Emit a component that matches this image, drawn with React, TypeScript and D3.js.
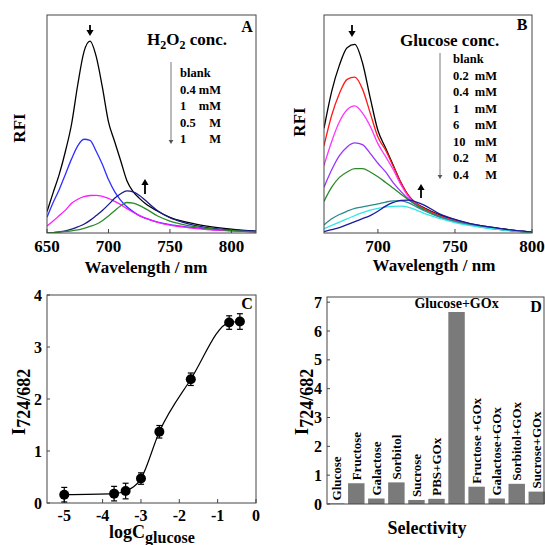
import React from "react";
import * as d3 from "d3";

const FONT = "'Liberation Serif', 'Times New Roman', serif";

// ---- panel A: H2O2 spectra ----
const waveA = [650, 655, 660, 665, 670, 675, 680, 685, 690, 695, 700, 705, 710, 715, 720, 725, 730, 740, 750, 760, 770, 780, 800, 820];
const blankA = [9.8, 18.5, 27, 37.5, 50, 68, 83, 88, 81, 67, 51, 42, 33, 24, 19, 16, 13.5, 10, 7.2, 5.4, 4.2, 3.2, 1.8, 0.9];
const h2o2_04mM = [7.2, 14, 20, 27, 34, 40, 43, 42.5, 37.5, 31.5, 24.5, 19, 15, 12, 9.8, 8, 6.8, 5, 3.8, 3, 2.4, 1.8, 1.1, 0.6];
const h2o2_1mM = [3.2, 5.5, 8, 10.5, 13.6, 15.5, 16.7, 17.2, 17.3, 16.8, 15.9, 14.5, 13, 11.2, 9.5, 8.1, 6.8, 4.9, 3.6, 2.8, 2.1, 1.6, 1.0, 0.5];
const h2o2_05M = [0, 0.2, 0.5, 1, 1.8, 2.8, 4, 5.8, 8, 10.3, 13, 15.9, 18, 19.3, 18.9, 17.3, 15, 10.2, 7, 5, 3.5, 2.5, 1.4, 0.8];
const h2o2_1M = [0, 0.2, 0.4, 0.7, 1, 1.4, 2.1, 3, 4, 5.6, 7.8, 10.2, 12.5, 14, 13.7, 12.7, 11.2, 7.8, 5.5, 4, 2.9, 2.1, 1.1, 0.5];
const seriesA = [blankA, h2o2_04mM, h2o2_1mM, h2o2_05M, h2o2_1M];
const colorsA = ["#000000", "#2f2fff", "#ff1aff", "#1a1a8c", "#2a8a2a"];
const legendA = [["blank", ""], ["0.4", "mM"], ["1", "mM"], ["0.5", "M"], ["1", "M"]];
const ticksA = [650, 700, 750, 800];

// ---- panel B: glucose spectra ----
const waveB = [665, 670, 675, 680, 685, 690, 695, 700, 705, 710, 715, 720, 725, 730, 740, 750, 760, 770, 780, 790, 800];
const blankB = [48, 65, 77, 85, 86.5, 78, 62, 47, 39, 31, 23, 17, 13.5, 11.5, 8.3, 6, 4.2, 3, 2, 1.1, 0.5];
const glu_02mM = [40, 54, 64, 70.5, 71.5, 66, 55, 44, 38, 30.5, 23, 17, 13.5, 11.3, 8, 5.8, 4, 2.8, 1.8, 1.0, 0.4];
const glu_04mM = [31, 42, 51, 56.5, 58.3, 55, 49, 41, 35, 29, 22, 16.5, 13, 10.8, 7.5, 5.3, 3.8, 2.6, 1.7, 0.9, 0.4];
const glu_1mM = [21, 29, 35.5, 39.5, 41.3, 40.5, 36.5, 32, 28, 23, 19, 15.5, 12.8, 10.8, 7.5, 5.3, 3.8, 2.6, 1.7, 0.9, 0.4];
const glu_6mM = [14.5, 21, 25.5, 28, 29.5, 29.5, 28, 25.8, 23.2, 20.5, 17.8, 15.2, 12.8, 10.8, 7.5, 5.2, 3.7, 2.5, 1.6, 0.9, 0.3];
const glu_10mM = [3.7, 6.5, 8.5, 10, 11.3, 12, 12.7, 13.4, 14.2, 14.7, 14.7, 13.8, 12, 10.2, 7.3, 5.2, 3.7, 2.5, 1.6, 0.9, 0.3];
const glu_02M = [2, 3.5, 5, 6.5, 8, 9.3, 10.5, 11.3, 11.9, 12.2, 12.3, 11.8, 10.5, 9, 6.7, 4.8, 3.4, 2.3, 1.5, 0.8, 0.3];
const glu_04M = [0.6, 1.5, 2.5, 3.8, 5.2, 6.6, 8, 10, 12.3, 14, 15, 15.1, 14.2, 12.8, 8.8, 6.2, 4.3, 3, 2, 1.1, 0.5];
const seriesB = [blankB, glu_02mM, glu_04mM, glu_1mM, glu_6mM, glu_10mM, glu_02M, glu_04M];
const colorsB = ["#000000", "#ff1a1a", "#ff33ff", "#9933ff", "#2a8a2a", "#2a8a8a", "#33e6e6", "#1a1aa0"];
const legendB = [["blank", ""], ["0.2", "mM"], ["0.4", "mM"], ["1", "mM"], ["6", "mM"], ["10", "mM"], ["0.2", "M"], ["0.4", "M"]];
const ticksB = [700, 750, 800];

// ---- panel C: calibration ----
const logC = [-5, -3.7, -3.4, -3, -2.52, -1.7, -0.7, -0.42];
const ratioC = [0.16, 0.18, 0.23, 0.47, 1.37, 2.38, 3.47, 3.49];
const errC = [0.14, 0.14, 0.15, 0.11, 0.12, 0.12, 0.13, 0.15];
const xTicksC = [-5, -4, -3, -2, -1, 0];
const yTicksC = [0, 1, 2, 3, 4];

// ---- panel D: selectivity ----
const selNames = ["Glucose", "Fructose", "Galactose", "Sorbitol", "Sucrose", "PBS+GOx", "Glucose+GOx", "Fructose +GOx", "Galactose+GOx", "Sorbitol+GOx", "Sucrose+GOx"];
const selValues = [0.02, 0.72, 0.19, 0.75, 0.14, 0.18, 6.66, 0.6, 0.19, 0.7, 0.43];
const yTicksD = [0, 1, 2, 3, 4, 5, 6, 7];

const Arrow = ({ x, y1, y2, head = 5, stroke = "#000", w = 1.5 }) => {
  const dir = y2 > y1 ? 1 : -1;
  return (
    <g>
      <line x1={x} x2={x} y1={y1} y2={y2 - dir * head} stroke={stroke} strokeWidth={w} />
      <path d={`M${x - head * 0.6},${y2 - dir * head} L${x + head * 0.6},${y2 - dir * head} L${x},${y2} Z`} fill={stroke} />
    </g>
  );
};

function Spectra({ waves, series, colors, x0, x1, domain, ticks }) {
  const top = 15, bottom = 233;
  const x = d3.scaleLinear().domain(domain).range([x0, x1]);
  const y = d3.scaleLinear().domain([0, 100]).range([bottom, top]);
  const line = d3.line<number>().x((d, i) => x(waves[i])).y((d) => y(d)).curve(d3.curveMonotoneX);
  return (
    <g>
      <defs>
        <clipPath id={`clip${x0}`}>
          <rect x={x0} y={top} width={x1 - x0} height={bottom - top} />
        </clipPath>
      </defs>
      <g clipPath={`url(#clip${x0})`}>
        {series.map((s, i) => (
          <path key={i} d={line(s)} fill="none" stroke={colors[i]} strokeWidth={1.3} />
        ))}
      </g>
      <rect x={x0} y={top} width={x1 - x0} height={bottom - top} fill="none" stroke="#444" strokeWidth={1} />
      {ticks.map((t) => (
        <g key={t}>
          <line x1={x(t)} x2={x(t)} y1={bottom} y2={bottom - 4} stroke="#444" />
          <text x={x(t)} y={252} textAnchor="middle" fontSize={17} fontWeight="bold">{t}</text>
        </g>
      ))}
    </g>
  );
}

export default function App() {
  // panel C scales
  const xC = d3.scaleLinear().domain([-5.45, 0]).range([47, 256]);
  const yC = d3.scaleLinear().domain([0, 4]).range([503, 295]);
  const lineC = d3.line<number>().x((d, i) => xC(logC[i])).y((d) => yC(d)).curve(d3.curveMonotoneX);

  // panel D scales
  const xD = d3.scaleBand<string>().domain(selNames).range([327, 546]).paddingInner(0.18).paddingOuter(0.05);
  const yD = d3.scaleLinear().domain([0, 7.18]).range([504, 297]);

  return (
    <svg width={545} height={545} style={{ position: "absolute", left: 0, top: 0, background: "#fff" }} fontFamily={FONT}>
      {/* Panel A */}
      <Spectra waves={waveA} series={seriesA} colors={colorsA} x0={47} x1={256} domain={[650, 820]} ticks={ticksA} />
      <text transform="translate(25,128) rotate(-90)" textAnchor="middle" fontSize={17} fontWeight="bold">RFI</text>
      <text x={146} y={273} textAnchor="middle" fontSize={17} fontWeight="bold">Wavelength / nm</text>
      <text x={247} y={32} textAnchor="middle" fontSize={16} fontWeight="bold">A</text>
      <text x={147} y={45} fontSize={17} fontWeight="bold">
        H<tspan fontSize={12} dy={4}>2</tspan><tspan dy={-4}>O</tspan><tspan fontSize={12} dy={4}>2</tspan><tspan dy={-4}> conc.</tspan>
      </text>
      <Arrow x={171} y1={62} y2={144} head={4} stroke="#555" w={0.8} />
      {legendA.map((d, i) => (
        <g key={i} fontSize={12.5} fontWeight="bold">
          <text x={180} y={77 + i * 16.5}>{d[0]}</text>
          {d[1] && <text x={221} y={77 + i * 16.5} textAnchor="end">{d[1]}</text>}
        </g>
      ))}
      <Arrow x={90} y1={25} y2={36} head={6} w={1.8} />
      <Arrow x={145} y1={194} y2={179} head={6} w={1.8} />

      {/* Panel B */}
      <Spectra waves={waveB} series={seriesB} colors={colorsB} x0={324} x1={532} domain={[665, 800]} ticks={ticksB} />
      <text transform="translate(305,122) rotate(-90)" textAnchor="middle" fontSize={17} fontWeight="bold">RFI</text>
      <text x={434} y={271} textAnchor="middle" fontSize={17} fontWeight="bold">Wavelength / nm</text>
      <text x={522} y={30} textAnchor="middle" fontSize={16} fontWeight="bold">B</text>
      <text x={400} y={46} fontSize={17} fontWeight="bold">Glucose conc.</text>
      <Arrow x={440} y1={53} y2={179} head={4} stroke="#555" w={0.8} />
      {legendB.map((d, i) => (
        <g key={i} fontSize={12.5} fontWeight="bold">
          <text x={453} y={63 + i * 16.5}>{d[0]}</text>
          {d[1] && <text x={497} y={63 + i * 16.5} textAnchor="end">{d[1]}</text>}
        </g>
      ))}
      <Arrow x={352} y1={25} y2={37} head={6} w={1.8} />
      <Arrow x={421} y1={198} y2={184} head={6} w={1.8} />

      {/* Panel C */}
      <rect x={47} y={295} width={209} height={208} fill="none" stroke="#444" />
      {xTicksC.map((t) => (
        <g key={t}>
          <line x1={xC(t)} x2={xC(t)} y1={503} y2={499} stroke="#444" />
          <text x={xC(t)} y={521} textAnchor="middle" fontSize={16} fontWeight="bold">{t}</text>
        </g>
      ))}
      {yTicksC.map((t) => (
        <g key={t}>
          <line x1={47} x2={50} y1={yC(t)} y2={yC(t)} stroke="#444" />
          <text x={42} y={yC(t) + 5.5} textAnchor="end" fontSize={16} fontWeight="bold">{t}</text>
        </g>
      ))}
      <path d={lineC(ratioC)} fill="none" stroke="#000" strokeWidth={1.2} />
      {ratioC.map((v, i) => (
        <g key={i} stroke="#000" strokeWidth={1.2}>
          <line x1={xC(logC[i])} x2={xC(logC[i])} y1={yC(v - errC[i])} y2={yC(v + errC[i])} />
          <line x1={xC(logC[i]) - 3} x2={xC(logC[i]) + 3} y1={yC(v - errC[i])} y2={yC(v - errC[i])} />
          <line x1={xC(logC[i]) - 3} x2={xC(logC[i]) + 3} y1={yC(v + errC[i])} y2={yC(v + errC[i])} />
          <circle cx={xC(logC[i])} cy={yC(v)} r={5} fill="#000" stroke="none" />
        </g>
      ))}
      <text x={247} y={309} textAnchor="middle" fontSize={16} fontWeight="bold">C</text>
      <text transform="translate(25,402) rotate(-90)" textAnchor="middle" fontWeight="bold">
        <tspan fontSize={19}>I</tspan><tspan fontSize={18} dy={5}>724/682</tspan>
      </text>
      <text x={152} y={538} textAnchor="middle" fontWeight="bold">
        <tspan fontSize={18}>logC</tspan><tspan fontSize={16} dy={5}>glucose</tspan>
      </text>

      {/* Panel D */}
      {selNames.map((n, i) => (
        <rect key={n} x={xD(n)} y={yD(selValues[i])} width={xD.bandwidth()} height={yD(0) - yD(selValues[i])} fill="#7a7a7a" />
      ))}
      <rect x={327} y={297} width={217} height={207} fill="none" stroke="#444" />
      {yTicksD.map((t) => (
        <g key={t}>
          <line x1={327} x2={330} y1={yD(t)} y2={yD(t)} stroke="#444" />
          <text x={322} y={yD(t) + 5.5} textAnchor="end" fontSize={16} fontWeight="bold">{t}</text>
        </g>
      ))}
      {selNames.map((n, i) =>
        n === "Glucose+GOx" ? (
          <text key={n} x={xD(n) + xD.bandwidth() / 2} y={yD(selValues[i]) - 4} textAnchor="middle" fontSize={14} fontWeight="bold">{n}</text>
        ) : (
          <text key={n} transform={`translate(${xD(n) + xD.bandwidth() / 2 + 4.5},${yD(selValues[i]) - 3}) rotate(-90)`} fontSize={13} fontWeight="bold">{n}</text>
        )
      )}
      <text x={536} y={312} textAnchor="middle" fontSize={16} fontWeight="bold">D</text>
      <text transform="translate(308,402) rotate(-90)" textAnchor="middle" fontWeight="bold">
        <tspan fontSize={19}>I</tspan><tspan fontSize={18} dy={5}>724/682</tspan>
      </text>
      <text x={427} y={534} textAnchor="middle" fontSize={18} fontWeight="bold">Selectivity</text>
    </svg>
  );
}
